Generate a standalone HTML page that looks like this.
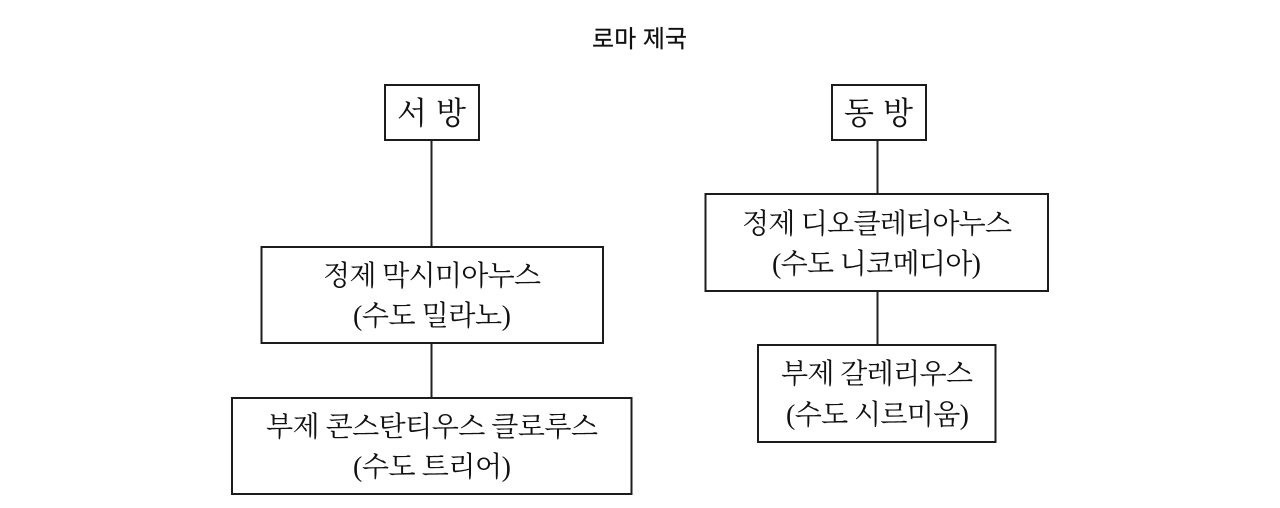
<!DOCTYPE html>
<html lang="ko">
<head>
<meta charset="utf-8">
<style>
html,body{margin:0;padding:0;background:#fff;width:1280px;height:508px;overflow:hidden}
svg{display:block}
.t{font-family:"Liberation Serif","Noto Serif CJK SC","Noto Serif CJK KR",serif;font-size:28px;fill:#111}
.b{font-size:31px}
.h{font-family:"Liberation Sans","Noto Sans CJK KR",sans-serif;font-size:24px;fill:#111;stroke:#111;stroke-width:.2px}
rect{fill:#fff;stroke:#1c1c1c;stroke-width:2}
line{stroke:#222;stroke-width:2}
</style>
</head>
<body>
<svg width="1280" height="508" viewBox="0 0 1280 508" xmlns="http://www.w3.org/2000/svg">
<text class="h" x="592" y="47" textLength="95" lengthAdjust="spacing">로마 제국</text>

<line x1="431.500" y1="140" x2="431.500" y2="247"/>
<line x1="431.500" y1="343" x2="431.500" y2="398"/>
<line x1="877.500" y1="140" x2="877.500" y2="194"/>
<line x1="877.500" y1="291" x2="877.500" y2="345"/>

<rect x="385" y="85" width="94" height="55"/>
<rect x="261.500" y="247" width="341.500" height="96"/>
<rect x="232" y="398" width="399.500" height="96"/>
<rect x="832" y="85" width="94" height="55"/>
<rect x="705.500" y="194" width="342.500" height="97"/>
<rect x="758" y="345" width="237.500" height="97"/>

<text class="t b" x="397" y="124" textLength="69" lengthAdjust="spacing">서 방</text>
<text class="t b" x="844" y="124" textLength="69" lengthAdjust="spacing">동 방</text>

<text class="t" x="323" y="285" textLength="218" lengthAdjust="spacing">정제 막시미아누스</text>
<text class="t" x="353" y="325" textLength="158" lengthAdjust="spacing">(수도 밀라노)</text>

<text class="t" x="266" y="436" textLength="332" lengthAdjust="spacing">부제 콘스탄티우스 클로루스</text>
<text class="t" x="353" y="476" textLength="158" lengthAdjust="spacing">(수도 트리어)</text>

<text class="t" x="742" y="233" textLength="270" lengthAdjust="spacing">정제 디오클레티아누스</text>
<text class="t" x="772" y="273" textLength="209" lengthAdjust="spacing">(수도 니코메디아)</text>

<text class="t" x="781" y="383" textLength="192" lengthAdjust="spacing">부제 갈레리우스</text>
<text class="t" x="786" y="424" textLength="183" lengthAdjust="spacing">(수도 시르미움)</text>
</svg>
</body>
</html>
